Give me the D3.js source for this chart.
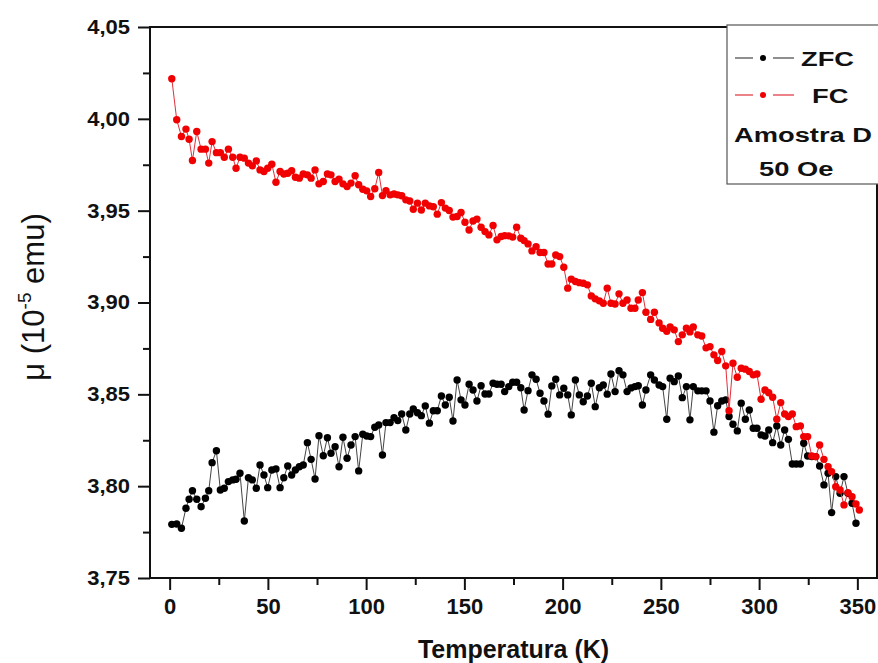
<!DOCTYPE html>
<html>
<head>
<meta charset="utf-8">
<script src="https://cdn.jsdelivr.net/npm/d3@7/dist/d3.min.js"></script>
<style>
  html, body { margin: 0; padding: 0; background: #fff; }
  svg { display: block; }
  text { font-family: "Liberation Sans", Arial, sans-serif; }
</style>
</head>
<body>
<svg id="chart" width="878" height="663"></svg>
<script>
// Temperature (K) of each measurement
const temperature = [
  1.1,3.6,6.0,8.3,9.9,11.6,13.8,16.0,18.2,19.9,
  21.6,23.8,25.8,27.8,29.9,32.1,33.8,35.8,38.0,40.1,
  42.1,44.1,46.0,48.0,49.9,52.0,54.1,56.2,58.1,60.1,
  62.1,64.0,66.0,68.0,70.1,72.0,74.0,76.0,78.2,80.3,
  82.1,84.2,86.2,88.2,90.3,92.3,94.4,96.2,98.3,100.3,
  102.3,104.4,106.4,108.3,110.1,112.2,114.2,116.1,118.1,120.2,
  122.2,124.0,126.1,128.1,130.1,132.2,134.2,136.2,138.3,140.3,
  142.3,144.2,146.3,148.3,150.3,152.4,154.4,156.4,158.5,160.5,
  162.5,164.6,166.6,168.7,170.5,172.6,174.6,176.6,178.7,180.4,
  182.4,184.4,186.5,188.5,190.5,192.6,194.5,196.5,198.5,200.6,
  202.6,204.4,206.5,208.5,210.5,212.6,214.6,216.6,218.7,220.7,
  222.7,224.6,226.7,228.7,230.7,232.8,234.8,236.8,238.5,240.6,
  242.4,244.8,246.7,249.1,250.9,253.0,254.7,256.8,258.9,260.9,
  263.0,264.8,266.5,268.8,270.8,273.0,275.0,277.0,278.9,281.0,
  283.0,284.7,286.7,288.9,290.9,293.0,295.0,297.0,298.9,301.0,
  303.0,304.9,306.9,309.0,311.0,313.0,314.9,316.9,318.9,321.0,
  322.7,324.7,326.8,328.8,330.8,333.0,335.1,336.9,339.0,341.2,
  343.2,345.2,347.3,349.3,351.0
];

// ZFC magnetic moment (10^-5 emu)
const zfc = [
  3.7792,3.7794,3.7771,3.7880,3.7929,3.7975,3.7929,3.7888,3.7934,3.7975,
  3.8128,3.8193,3.7979,3.7989,3.8025,3.8034,3.8038,3.8070,3.7810,3.8046,
  3.8034,3.7989,3.8115,3.8061,3.7992,3.8088,3.8094,3.7992,3.8046,3.8110,
  3.8061,3.8088,3.8106,3.8115,3.8237,3.8146,3.8039,3.8275,3.8166,3.8264,
  3.8179,3.8215,3.8106,3.8266,3.8152,3.8224,3.8270,3.8083,3.8283,3.8273,
  3.8270,3.8321,3.8333,3.8170,3.8346,3.8346,3.8373,3.8357,3.8393,3.8306,
  3.8393,3.8420,3.8400,3.8384,3.8437,3.8343,3.8411,3.8411,3.8491,3.8442,
  3.8484,3.8355,3.8578,3.8470,3.8442,3.8555,3.8524,3.8464,3.8547,3.8502,
  3.8502,3.8560,3.8555,3.8555,3.8515,3.8542,3.8566,3.8566,3.8536,3.8415,
  3.8520,3.8606,3.8582,3.8506,3.8464,3.8392,3.8546,3.8582,3.8497,3.8533,
  3.8497,3.8388,3.8578,3.8497,3.8460,3.8491,3.8560,3.8433,3.8536,3.8551,
  3.8501,3.8611,3.8515,3.8629,3.8606,3.8515,3.8535,3.8542,3.8547,3.8442,
  3.8524,3.8606,3.8578,3.8551,3.8542,3.8364,3.8588,3.8569,3.8600,3.8482,
  3.8542,3.8361,3.8542,3.8519,3.8519,3.8519,3.8464,3.8294,3.8438,3.8464,
  3.8470,3.8379,3.8337,3.8301,3.8452,3.8364,3.8415,3.8315,3.8315,3.8279,
  3.8273,3.8306,3.8237,3.8328,3.8224,3.8306,3.8255,3.8121,3.8121,3.8121,
  3.8234,3.8164,3.8161,3.8161,3.8110,3.8007,3.8070,3.7856,3.8052,3.7961,
  3.8052,3.7961,3.7907,3.7798
];

// FC magnetic moment (10^-5 emu)
const fc = [
  4.0218,3.9995,3.9904,3.9944,3.9889,3.9773,3.9931,3.9835,3.9835,3.9759,
  3.9876,3.9816,3.9816,3.9791,3.9835,3.9791,3.9731,3.9791,3.9786,3.9759,
  3.9744,3.9771,3.9722,3.9713,3.9731,3.9753,3.9655,3.9713,3.9700,3.9704,
  3.9717,3.9682,3.9677,3.9700,3.9695,3.9677,3.9722,3.9646,3.9659,3.9700,
  3.9695,3.9659,3.9672,3.9646,3.9631,3.9650,3.9690,3.9641,3.9617,3.9608,
  3.9577,3.9619,3.9708,3.9582,3.9609,3.9586,3.9591,3.9586,3.9581,3.9559,
  3.9553,3.9508,3.9541,3.9504,3.9541,3.9526,3.9521,3.9481,3.9544,3.9514,
  3.9501,3.9465,3.9468,3.9490,3.9437,3.9395,3.9444,3.9454,3.9410,3.9386,
  3.9368,3.9419,3.9341,3.9359,3.9364,3.9363,3.9356,3.9410,3.9350,3.9337,
  3.9319,3.9281,3.9304,3.9272,3.9272,3.9210,3.9210,3.9259,3.9250,3.9192,
  3.9078,3.9127,3.9114,3.9108,3.9105,3.9096,3.9036,3.9020,3.9009,3.8996,
  3.9078,3.8996,3.8992,3.9047,3.8996,3.9014,3.8969,3.8969,3.9014,3.9054,
  3.8947,3.8908,3.8947,3.8889,3.8860,3.8843,3.8867,3.8851,3.8787,3.8824,
  3.8860,3.8840,3.8867,3.8824,3.8818,3.8753,3.8760,3.8715,3.8684,3.8733,
  3.8655,3.8411,3.8669,3.8593,3.8642,3.8637,3.8624,3.8606,3.8611,3.8473,
  3.8524,3.8509,3.8484,3.8364,3.8455,3.8393,3.8379,3.8393,3.8324,3.8328,
  3.8270,3.8270,3.8164,3.8161,3.8224,3.8146,3.8106,3.8079,3.7997,3.7979,
  3.7898,3.7965,3.7943,3.7903,3.7870
];

const xMajorTicks = [0, 50, 100, 150, 200, 250, 300, 350];
const xMinorTicks = [25, 75, 125, 175, 225, 275, 325];
const yMajorTicks = [3.75, 3.80, 3.85, 3.90, 3.95, 4.00, 4.05];
const yMinorTicks = [3.775, 3.825, 3.875, 3.925, 3.975, 4.025];
const seriesNames = ["ZFC", "FC"];
const legendNotes = ["Amostra D", "50 Oe"];
const xTitle = "Temperatura (K)";

const svg = d3.select("#chart");
const L = 150, R = 877, T = 27, B = 578;

const x = d3.scaleLinear().domain([-10, 360]).range([L, R]);
const y = d3.scaleLinear().domain([3.75, 4.05]).range([B, T]);
const fmt = d => d3.format(".2f")(d).replace(".", ",");

// horizontally widen a text element about its anchor point
function stretch(sel, sx) {
  sel.each(function () {
    const t = d3.select(this);
    const tx = +t.attr("x") || 0, ty = +t.attr("y") || 0;
    t.attr("transform", `translate(${tx},${ty}) scale(${sx},1)`).attr("x", 0).attr("y", 0);
  });
}

// axes
const gx = svg.append("g").attr("transform", `translate(0,${B})`)
  .call(d3.axisBottom(x).tickValues(xMajorTicks).tickSize(12).tickPadding(8).tickFormat(d3.format("d")));
const gxm = svg.append("g").attr("transform", `translate(0,${B})`)
  .call(d3.axisBottom(x).tickValues(xMinorTicks).tickSize(7).tickFormat(""));
const gy = svg.append("g").attr("transform", `translate(${L},0)`)
  .call(d3.axisLeft(y).tickValues(yMajorTicks).tickSize(12).tickPadding(8).tickFormat(fmt));
const gym = svg.append("g").attr("transform", `translate(${L},0)`)
  .call(d3.axisLeft(y).tickValues(yMinorTicks).tickSize(7).tickFormat(""));
[gx, gxm, gy, gym].forEach(g => {
  g.select(".domain").remove();
  g.selectAll(".tick line").attr("stroke", "#111").attr("stroke-width", 2);
});
gx.selectAll(".tick text").attr("font-size", 22).attr("font-weight", "bold").attr("fill", "#111")
  .attr("font-family", "'Liberation Sans', Arial, sans-serif");
gy.selectAll(".tick text").attr("font-size", 20).attr("font-weight", "bold").attr("fill", "#111")
  .attr("font-family", "'Liberation Sans', Arial, sans-serif").call(stretch, 1.1);

// frame
svg.append("rect").attr("x", L).attr("y", T).attr("width", R - L).attr("height", B - T)
  .attr("fill", "none").attr("stroke", "#111").attr("stroke-width", 2);

// series
const line = d3.line().x(d => x(d.t)).y(d => y(d.v));
const zData = zfc.map((v, i) => ({ t: temperature[i], v }));
const fData = fc.map((v, i) => ({ t: temperature[i], v }));

svg.append("path").datum(zData).attr("d", line).attr("fill", "none")
  .attr("stroke", "#444").attr("stroke-width", 1);
svg.append("g").selectAll("circle").data(zData).join("circle")
  .attr("cx", d => x(d.t)).attr("cy", d => y(d.v)).attr("r", 3.7).attr("fill", "#000");

svg.append("path").datum(fData).attr("d", line).attr("fill", "none")
  .attr("stroke", "#e0303a").attr("stroke-width", 1);
svg.append("g").selectAll("circle").data(fData).join("circle")
  .attr("cx", d => x(d.t)).attr("cy", d => y(d.v)).attr("r", 3.7).attr("fill", "#f00000");

// legend
const lg = svg.append("g");
lg.append("rect").attr("x", 727).attr("y", 25).attr("width", 170).attr("height", 159)
  .attr("fill", "#fff").attr("stroke", "#555").attr("stroke-width", 1.2);
const rows = [{ name: seriesNames[0], line: "#444", dot: "#000", y: 58, tx: 801 },
              { name: seriesNames[1], line: "#e0303a", dot: "#f00000", y: 95, tx: 812 }];
rows.forEach(r => {
  lg.append("line").attr("x1", 735).attr("x2", 753).attr("y1", r.y).attr("y2", r.y).attr("stroke", r.line).attr("stroke-width", 1.2);
  lg.append("line").attr("x1", 773).attr("x2", 794).attr("y1", r.y).attr("y2", r.y).attr("stroke", r.line).attr("stroke-width", 1.2);
  lg.append("circle").attr("cx", 763).attr("cy", r.y).attr("r", 3).attr("fill", r.dot);
  lg.append("text").attr("x", r.tx).attr("y", r.y + 8).attr("font-size", 21).attr("font-weight", "bold")
    .attr("fill", "#111").text(r.name).call(stretch, 1.3);
});
lg.append("text").attr("x", 734).attr("y", 142).attr("font-size", 21).attr("font-weight", "bold")
  .attr("fill", "#111").text(legendNotes[0]).call(stretch, 1.3);
lg.append("text").attr("x", 759).attr("y", 176).attr("font-size", 21).attr("font-weight", "bold")
  .attr("fill", "#111").text(legendNotes[1]).call(stretch, 1.3);

// axis titles
svg.append("text").attr("x", (L + R) / 2).attr("y", 658).attr("text-anchor", "middle")
  .attr("font-size", 25).attr("font-weight", "bold").attr("fill", "#111").text(xTitle);

const yt = svg.append("text").attr("transform", "translate(44,297) rotate(-90)")
  .attr("text-anchor", "middle").attr("font-size", 31).attr("fill", "#111");
yt.append("tspan").text("μ  (10");
yt.append("tspan").attr("font-size", 19).attr("dy", -13).text("-5");
yt.append("tspan").attr("dy", 13).text(" emu)");
</script>
</body>
</html>
